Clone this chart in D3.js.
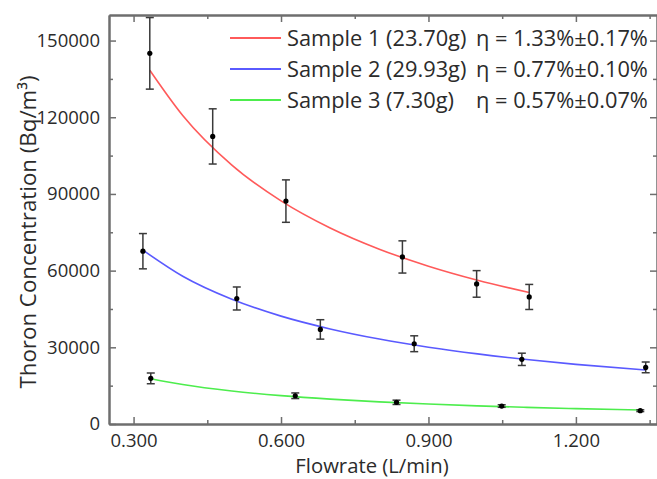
<!DOCTYPE html>
<html>
<head>
<meta charset="utf-8">
<script src="https://cdn.jsdelivr.net/npm/d3@7/dist/d3.min.js"></script>
<style>
  html, body { margin: 0; padding: 0; background: #fff; }
  svg { display: block; }
  text { font-family: "Open Sans", "Noto Sans", sans-serif; fill: #2b2b2b; }
</style>
</head>
<body>
<svg id="chart" width="657" height="479"></svg>
<script>
// ---- Data ----
const seriesNames = ["Sample 1 (23.70g)", "Sample 2 (29.93g)", "Sample 3 (7.30g)"];
const etaLabels = ["η = 1.33%±0.17%", "η = 0.77%±0.10%", "η = 0.57%±0.07%"];
const seriesColors = ["#ff5a5a", "#5a5aff", "#4ded4d"];

// measured points: flowrate (L/min), concentration (Bq/m3), error (Bq/m3)
const s1Flow = [0.333, 0.461, 0.610, 0.847, 0.998, 1.105];
const s1Conc = [145000, 112500, 87200, 65350, 54800, 49700];
const s1Err  = [14000, 10800, 8300, 6300, 5200, 4900];

const s2Flow = [0.319, 0.510, 0.680, 0.871, 1.090, 1.342];
const s2Conc = [67600, 49100, 37000, 31400, 25300, 22150];
const s2Err  = [6900, 4500, 3800, 3100, 2400, 2100];

const s3Flow = [0.335, 0.629, 0.835, 1.049, 1.331];
const s3Conc = [17850, 11050, 8480, 7030, 5200];
const s3Err  = [2100, 1100, 850, 500, 350];

// fitted curves
const f1Flow = [0.333, 0.4, 0.5, 0.6, 0.7, 0.8, 0.9, 1.0, 1.105];
const f1Conc = [138400, 120700, 101300, 87300, 76700, 68400, 61750, 56260, 51450];

const f2Flow = [0.319, 0.4, 0.5, 0.6, 0.7, 0.8, 0.9, 1.0, 1.1, 1.2, 1.342];
const f2Conc = [68000, 57800, 48800, 42200, 37200, 33240, 30050, 27420, 25210, 23330, 21100];

const f3Flow = [0.335, 0.4, 0.5, 0.6, 0.7, 0.8, 0.9, 1.0, 1.1, 1.2, 1.331];
const f3Conc = [17700, 15430, 12900, 11090, 9720, 8650, 7800, 7100, 6510, 6010, 5470];

const xMajorTicks = [0.3, 0.6, 0.9, 1.2];
const xMinorTicks = [0.45, 0.75, 1.05, 1.35];
const yMajorTicks = [0, 30000, 60000, 90000, 120000, 150000];
const yMinorTicks = [15000, 45000, 75000, 105000, 135000];

const xTitle = "Flowrate (L/min)";
const yTitle = "Thoron Concentration (Bq/m³)";

// ---- Layout ----
const svg = d3.select("#chart");
const L = 109, T = 15, R = 657, B = 424;
const x = d3.scaleLinear().domain([0.25, 1.365]).range([L, R]);
const y = d3.scaleLinear().domain([0, 160000]).range([B, T]);
const axisColor = "#6e6e6e";

function styleAxis(g) {
  g.selectAll("path.domain").attr("stroke", axisColor).attr("stroke-width", 2);
  g.selectAll(".tick line").attr("stroke", axisColor).attr("stroke-width", 1.5);
  g.selectAll(".tick text").style("font-family", '"Open Sans", sans-serif')
    .style("font-size", "18.5px").attr("fill", "#2b2b2b");
}

// bottom
svg.append("g").attr("transform", `translate(0,${B})`)
  .call(d3.axisBottom(x).tickValues(xMinorTicks).tickFormat("").tickSizeInner(-4).tickSizeOuter(0))
  .call(styleAxis);
svg.append("g").attr("transform", `translate(0,${B})`)
  .call(d3.axisBottom(x).tickValues(xMajorTicks).tickFormat(d3.format(".3f")).tickSizeInner(-7).tickSizeOuter(0).tickPadding(10))
  .call(styleAxis);
// top
svg.append("g").attr("transform", `translate(0,${T})`)
  .call(d3.axisTop(x).tickValues(xMinorTicks).tickFormat("").tickSizeInner(-4).tickSizeOuter(0))
  .call(styleAxis);
svg.append("g").attr("transform", `translate(0,${T})`)
  .call(d3.axisTop(x).tickValues(xMajorTicks).tickFormat("").tickSizeInner(-7).tickSizeOuter(0))
  .call(styleAxis);
// left
svg.append("g").attr("transform", `translate(${L},0)`)
  .call(d3.axisLeft(y).tickValues(yMinorTicks).tickFormat("").tickSizeInner(-4).tickSizeOuter(0))
  .call(styleAxis);
svg.append("g").attr("transform", `translate(${L},0)`)
  .call(d3.axisLeft(y).tickValues(yMajorTicks).tickFormat(d3.format("d")).tickSizeInner(-7).tickSizeOuter(0).tickPadding(9))
  .call(styleAxis);
// right
svg.append("g").attr("transform", `translate(${R},0)`)
  .call(d3.axisRight(y).tickValues(yMinorTicks).tickFormat("").tickSizeInner(-4).tickSizeOuter(0))
  .call(styleAxis);
svg.append("g").attr("transform", `translate(${R},0)`)
  .call(d3.axisRight(y).tickValues(yMajorTicks).tickFormat("").tickSizeInner(-7).tickSizeOuter(0))
  .call(styleAxis);

// titles
svg.append("text").attr("x", 372).attr("y", 473.2).attr("text-anchor", "middle")
  .style("font-size", "20.3px").text(xTitle);
svg.append("text").attr("transform", "translate(36,232) rotate(-90)").attr("text-anchor", "middle")
  .style("font-size", "22.3px").text(yTitle);

// fits
const fits = [
  {fx: f1Flow, fy: f1Conc},
  {fx: f2Flow, fy: f2Conc},
  {fx: f3Flow, fy: f3Conc}
];
const line = d3.line().x(d => x(d[0])).y(d => y(d[1])).curve(d3.curveMonotoneX);
fits.forEach((f, i) => {
  svg.append("path")
    .datum(d3.zip(f.fx, f.fy))
    .attr("fill", "none")
    .attr("stroke", seriesColors[i])
    .attr("stroke-width", 1.6)
    .attr("d", line);
});

// points with error bars
const pts = [
  {fx: s1Flow, c: s1Conc, e: s1Err},
  {fx: s2Flow, c: s2Conc, e: s2Err},
  {fx: s3Flow, c: s3Conc, e: s3Err}
];
const barColor = "#3a3a3a";
pts.forEach(s => {
  const data = d3.zip(s.fx, s.c, s.e);
  const g = svg.append("g");
  const eb = g.selectAll("g.eb").data(data).join("g");
  eb.append("line")
    .attr("x1", d => x(d[0])).attr("x2", d => x(d[0]))
    .attr("y1", d => y(d[1] - d[2])).attr("y2", d => y(d[1] + d[2]))
    .attr("stroke", barColor).attr("stroke-width", 1.5);
  eb.append("line")
    .attr("x1", d => x(d[0]) - 4).attr("x2", d => x(d[0]) + 4)
    .attr("y1", d => y(d[1] + d[2])).attr("y2", d => y(d[1] + d[2]))
    .attr("stroke", barColor).attr("stroke-width", 1.5);
  eb.append("line")
    .attr("x1", d => x(d[0]) - 4).attr("x2", d => x(d[0]) + 4)
    .attr("y1", d => y(d[1] - d[2])).attr("y2", d => y(d[1] - d[2]))
    .attr("stroke", barColor).attr("stroke-width", 1.5);
  eb.append("circle")
    .attr("cx", d => x(d[0])).attr("cy", d => y(d[1]))
    .attr("r", 2.6).attr("fill", "#000");
});

// legend
const legY = [38, 69, 100];
seriesNames.forEach((n, i) => {
  svg.append("line").attr("x1", 230).attr("x2", 281)
    .attr("y1", legY[i]).attr("y2", legY[i])
    .attr("stroke", seriesColors[i]).attr("stroke-width", 2);
  svg.append("text").attr("x", 287).attr("y", legY[i] + 8)
    .style("font-size", "21.8px").text(n);
  svg.append("text").attr("x", 476).attr("y", legY[i] + 8)
    .style("font-size", "21.8px").text(etaLabels[i]);
});
</script>
</body>
</html>
